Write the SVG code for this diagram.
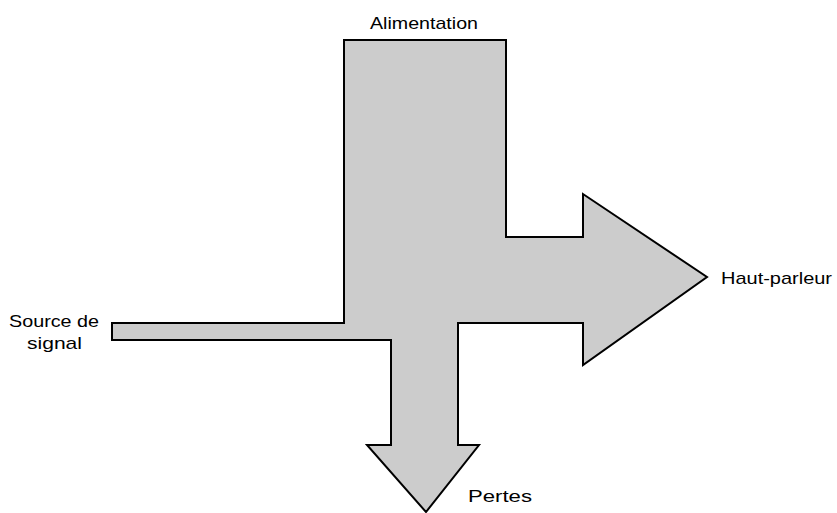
<svg xmlns="http://www.w3.org/2000/svg" width="837" height="513" viewBox="0 0 837 513">
  <style>
    .flow { fill: #cccccc; stroke: #000000; stroke-width: 2; stroke-linejoin: miter; }
    .lbl { font-family: "Liberation Sans", Arial, sans-serif; font-size: 17px; fill: #000000; }
  </style>
  <rect width="837" height="513" fill="#ffffff"/>
  <g id="flow">
    <path class="flow" d="M344,40 L506,40 L506,237 L583,237 L583,194 L707,277 L583,365 L583,323 L458,323 L458,445 L479,445 L426,512 L367,445 L391,445 L391,340 L112,340 L112,323 L344,323 Z"/>
  </g>
  <g id="labels">
    <text class="lbl" x="370" y="29" textLength="108" lengthAdjust="spacingAndGlyphs">Alimentation</text>
    <text class="lbl" x="721" y="284" textLength="111" lengthAdjust="spacingAndGlyphs">Haut-parleur</text>
    <text class="lbl" x="468" y="502" textLength="64" lengthAdjust="spacingAndGlyphs">Pertes</text>
    <text class="lbl" x="9" y="327" textLength="90" lengthAdjust="spacingAndGlyphs">Source de</text>
    <text class="lbl" x="27" y="349" textLength="55" lengthAdjust="spacingAndGlyphs">signal</text>
  </g>
</svg>
